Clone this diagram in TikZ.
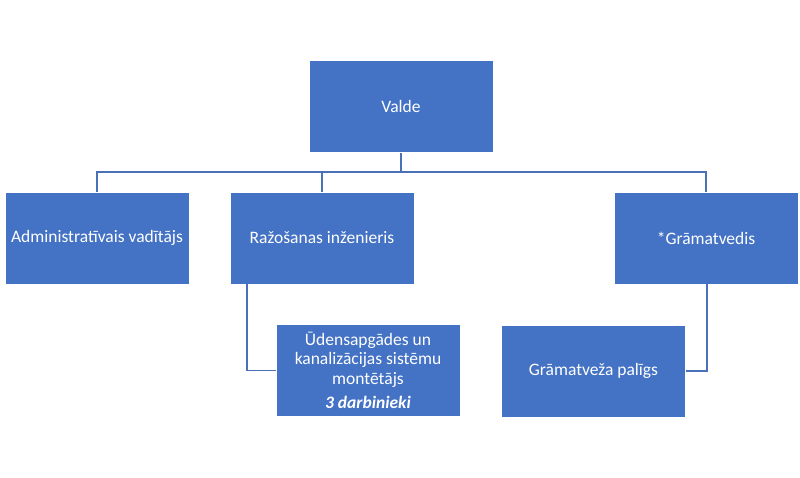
\documentclass[tikz,border=0pt]{standalone}
\usepackage{fontspec}
\setmainfont{Carlito}
\definecolor{boxblue}{HTML}{4472C4}
\definecolor{lineblue}{HTML}{4A70B8}
\begin{document}
\begin{tikzpicture}[x=1pt,y=-1pt,
  orgbox/.style={draw=white, line width=0.6pt, fill=boxblue, text=white, minimum width=184pt, minimum height=92pt, inner sep=2pt, align=center, font=\fontsize{17.5}{19.5}\selectfont},
  link/.style={draw=lineblue, line width=1.8pt}]
\useasboundingbox (0,0) rectangle (800,477);
\node[orgbox] (valde) at (401,106.5) {Valde};
\node[orgbox] (admin) at (97,238) {Administratīvais vadītājs};
\node[orgbox] (raz) at (322,238) {Ražošanas inženieris};
\node[orgbox] (gram) at (706,238) {*Grāmatvedis};
\node[orgbox] (uden) at (368,370.5) {Ūdensapgādes un\\kanalizācijas sistēmu\\montētājs\\[5pt]\textbf{\textit{3 darbinieki}}};
\node[orgbox] (pal) at (593.5,371) {Grāmatveža palīgs};
\coordinate (bus) at (401,172);
\draw[link] (valde.south) -- (bus);
\draw[link] (admin.north) |- (bus);
\draw[link] (raz.north) |- (bus);
\draw[link] (gram.north) |- (bus);
\draw[link] ([xshift=-75pt]raz.south) |- (uden.west);
\draw[link] ([xshift=1pt]gram.south) |- (pal.east);
\end{tikzpicture}
\end{document}
